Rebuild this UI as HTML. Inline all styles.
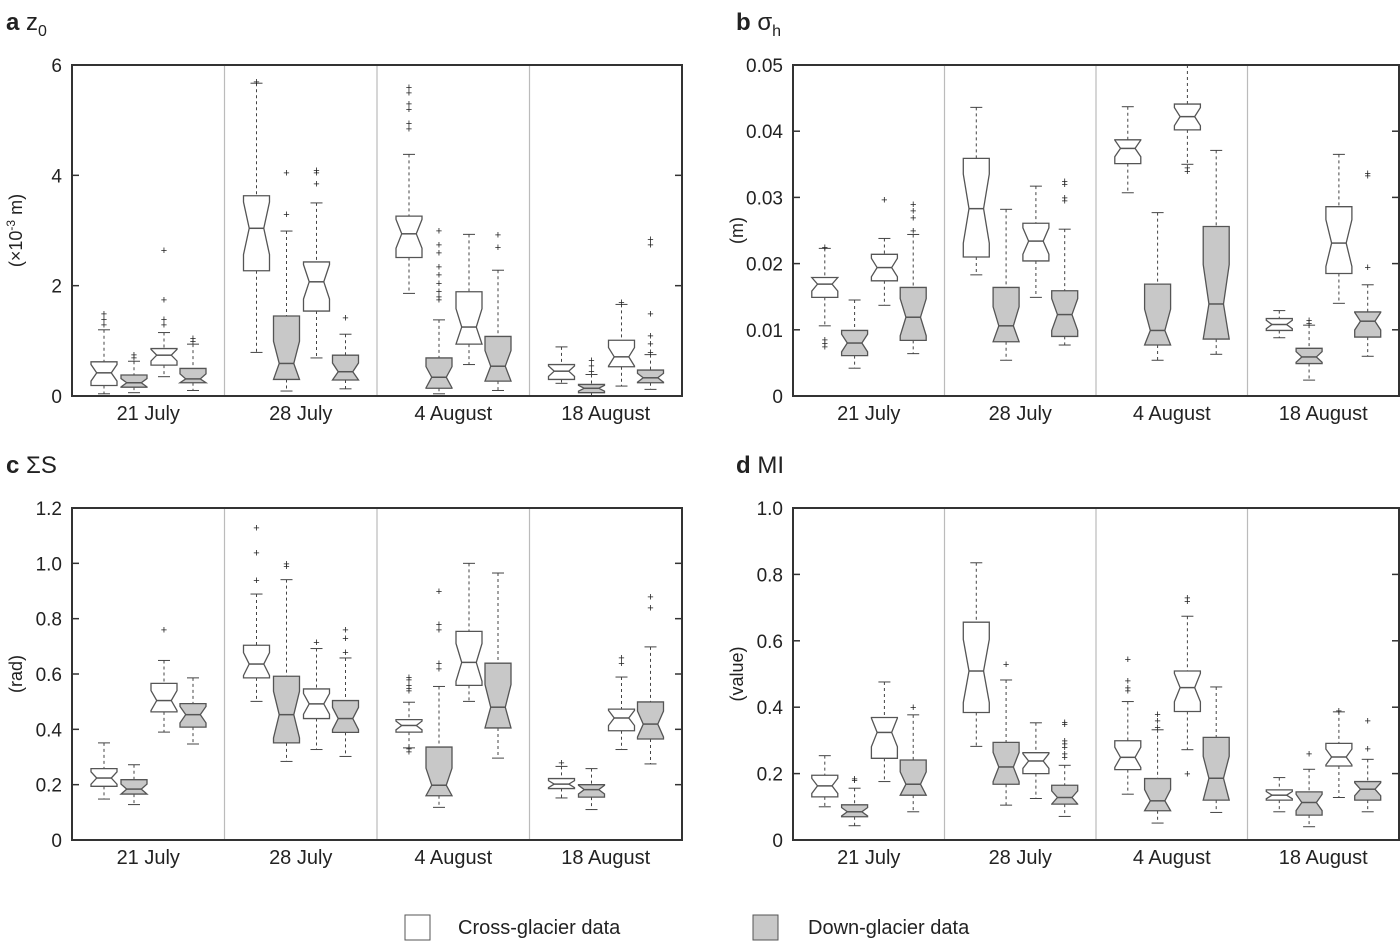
<!DOCTYPE html>
<html><head><meta charset="utf-8"><style>
body{margin:0;background:#fff;}
svg text{font-family:"Liberation Sans",sans-serif;fill:#222;}
</style></head><body>
<svg id="s" width="1400" height="944" viewBox="0 0 1400 944" xmlns="http://www.w3.org/2000/svg">
<g>
<text x="6" y="30" font-size="24"><tspan font-weight="bold">a</tspan>  z<tspan font-size="16" dy="6">0</tspan></text>
<text x="736" y="30" font-size="24"><tspan font-weight="bold">b</tspan>  σ<tspan font-size="16" dy="6">h</tspan></text>
<text x="6" y="473" font-size="24"><tspan font-weight="bold">c</tspan>  ΣS</text>
<text x="736" y="473" font-size="24"><tspan font-weight="bold">d</tspan>  MI</text>
</g>
<g>
<rect x="405" y="915" width="25" height="25" fill="#fff" stroke="#555"/>
<text x="458" y="934" font-size="20">Cross-glacier data</text>
<rect x="753" y="915" width="25" height="25" fill="#c8c8c8" stroke="#555"/>
<text x="808" y="934" font-size="20">Down-glacier data</text>
</g>
</svg>
<script>
const groups=["21 July","28 July","4 August","18 August"];
// each box: [lo, q1, median, q3, hi, outliers...] order per group: cross, down, cross, down
const dataA=[
[[0.04,0.19,0.42,0.62,1.2,[1.3,1.4,1.5]],[0.06,0.16,0.24,0.38,0.63,[0.7,0.75]],[0.35,0.56,0.74,0.86,1.15,[1.3,1.4,1.75,2.65]],[0.1,0.24,0.31,0.5,0.94,[1.0,1.05]]],
[[0.79,2.27,3.04,3.63,5.67,[5.7]],[0.09,0.3,0.59,1.45,2.99,[3.3,4.05]],[0.69,1.54,2.07,2.43,3.5,[3.85,4.05,4.1]],[0.13,0.29,0.44,0.74,1.12,[1.42]]],
[[1.86,2.51,2.94,3.26,4.38,[4.85,4.95,5.2,5.3,5.5,5.6]],[0.04,0.14,0.34,0.69,1.38,[1.75,1.8,1.9,2.05,2.2,2.35,2.6,2.75,3.0]],[0.57,0.94,1.25,1.89,2.93,[]],[0.1,0.27,0.54,1.08,2.28,[2.7,2.93]]],
[[0.23,0.3,0.45,0.57,0.89,[]],[0.0,0.06,0.14,0.21,0.39,[0.45,0.55,0.65]],[0.18,0.53,0.71,1.01,1.66,[1.7]],[0.12,0.24,0.33,0.47,0.75,[0.8,0.95,1.1,1.5,2.75,2.85]]]];
const dataB=[
[[.0106,.0149,.0169,.0179,.0223,[.0225,.0085,.008,.0075]],[.0042,.0061,.008,.0099,.0145,[]],[.0137,.0174,.0194,.0214,.0238,[.0297]],[.0064,.0084,.0119,.0164,.0244,[.025,.027,.028,.029]]],
[[.0183,.021,.0283,.0359,.0436,[]],[.0054,.0082,.0106,.0164,.0282,[]],[.0149,.0204,.0234,.0261,.0317,[]],[.0077,.009,.0123,.0159,.0252,[.0295,.030,.032,.0325]]],
[[.0307,.0351,.0374,.0387,.0437,[]],[.0054,.0077,.0099,.0169,.0277,[]],[.035,.0402,.0422,.0441,.05,[.0345,.034]],[.0063,.0086,.0139,.0256,.0371,[]]],
[[.0088,.0099,.0108,.0117,.0129,[]],[.0024,.0049,.0059,.0072,.0107,[.011,.0115]],[.014,.0185,.0231,.0286,.0365,[]],[.006,.0089,.0113,.0127,.0168,[.0195,.0333,.0337]]]];
const dataC=[
[[.148,.194,.224,.258,.351,[]],[.128,.166,.184,.218,.272,[]],[.39,.463,.504,.566,.649,[.76]],[.347,.408,.453,.493,.586,[]]],
[[.501,.586,.636,.704,.889,[.94,1.04,1.13]],[.284,.351,.453,.592,.941,[.99,1.0]],[.327,.439,.492,.546,.692,[.715]],[.302,.389,.439,.504,.658,[.68,.73,.76]]],
[[.333,.39,.414,.435,.498,[.33,.32,.54,.55,.56,.58,.59]],[.118,.16,.198,.336,.555,[.62,.64,.76,.78,.9]],[.501,.559,.642,.754,1.0,[]],[.296,.405,.48,.639,.965,[]]],
[[.152,.186,.202,.222,.266,[.28]],[.11,.155,.182,.2,.258,[]],[.327,.395,.441,.473,.589,[.64,.66]],[.275,.365,.419,.499,.698,[.84,.88]]]];
const dataD=[
[[.1,.13,.163,.195,.254,[]],[.043,.07,.085,.106,.156,[.18,.185]],[.176,.246,.324,.369,.476,[]],[.085,.135,.168,.241,.377,[.4]]],
[[.282,.384,.509,.656,.835,[]],[.105,.168,.22,.294,.482,[.53]],[.125,.2,.238,.263,.353,[]],[.071,.108,.128,.165,.225,[.25,.26,.28,.29,.30,.35,.355]]],
[[.138,.212,.249,.299,.417,[.45,.46,.48,.545]],[.051,.088,.118,.185,.332,[.34,.36,.38]],[.272,.387,.459,.509,.674,[.2,.72,.73]],[.083,.12,.186,.309,.461,[]]],
[[.085,.12,.135,.151,.188,[]],[.04,.075,.113,.145,.213,[.26]],[.128,.223,.25,.291,.386,[.39]],[.085,.12,.153,.176,.243,[.275,.36]]]];
const ticksA=["0","2","4","6"], ticksB=["0","0.01","0.02","0.03","0.04","0.05"];
const ticksC=["0","0.2","0.4","0.6","0.8","1.0","1.2"], ticksD=["0","0.2","0.4","0.6","0.8","1.0"];

const svg=document.getElementById('s');
const NS="http://www.w3.org/2000/svg";
function mk(tag,attrs,parent){const e=document.createElementNS(NS,tag);for(const k in attrs)e.setAttribute(k,attrs[k]);parent.appendChild(e);return e;}

function panel(name,x0,x1,y0,y1,ymax,ticks,ylab,data){
  const g=mk('g',{},svg);
  
  
  const ys=v=>y1-(v/ymax)*(y1-y0);
  const gw=(x1-x0)/4;
  // dividers
  for(let i=1;i<4;i++){const l=mk('line',{x1:x0+gw*i,x2:x0+gw*i,y1:y0,y2:y1,stroke:'#bbb','stroke-width':1.2},g);
    }
  // ticks
  ticks.forEach(t=>{const v=parseFloat(t),y=ys(v);
    mk('line',{x1:x0,x2:x0+7,y1:y,y2:y,stroke:'#333','stroke-width':1.5},g);
    mk('line',{x1:x1-7,x2:x1,y1:y,y2:y,stroke:'#333','stroke-width':1.5},g);
    const tx=mk('text',{x:x0-10,y:y+7,'font-size':19,'text-anchor':'end'},g);tx.textContent=t;
    
  });
  const yl=mk('text',{transform:`translate(${x0-50},${(y0+y1)/2}) rotate(-90)`,'font-size':18,'text-anchor':'middle'},g);
  yl.innerHTML=ylab;
  
  const offs=[32,62,92,121], bw=26;
  data.forEach((grp,gi)=>{
    const lab=mk('text',{x:x0+gw*gi+gw/2,y:y1+24,'font-size':20,'text-anchor':'middle'},g);lab.textContent=groups[gi];
    
    grp.forEach((b,bi)=>{
      const cx=x0+gw*gi+offs[bi]*gw/152.5;
      const [lo,q1,md,q3,hi,outs]=b;
      const bg=mk('g',{},g);
      
      
      const Y1=ys(q1),Y3=ys(q3),YM=ys(md),nh=Math.min(0.35*(Y1-Y3),(Y1-Y3)/2);
      const n1=Math.min(Y1,YM+nh),n3=Math.max(Y3,YM-nh);
      const L=cx-bw/2,R=cx+bw/2,ni=bw*0.22;
      mk('line',{x1:cx,x2:cx,y1:ys(hi),y2:Y3,stroke:'#444','stroke-dasharray':'3,3'},bg);
      mk('line',{x1:cx,x2:cx,y1:Y1,y2:ys(lo),stroke:'#444','stroke-dasharray':'3,3'},bg);
      mk('line',{x1:cx-6,x2:cx+6,y1:ys(hi),y2:ys(hi),stroke:'#444'},bg);
      mk('line',{x1:cx-6,x2:cx+6,y1:ys(lo),y2:ys(lo),stroke:'#444'},bg);
      const pts=`${L},${Y3} ${R},${Y3} ${R},${n3} ${R-ni},${YM} ${R},${n1} ${R},${Y1} ${L},${Y1} ${L},${n1} ${L+ni},${YM} ${L},${n3}`;
      mk('polygon',{points:pts,fill:bi%2==0?'#fff':'#c8c8c8',stroke:'#555','stroke-width':1.3},bg);
      mk('line',{x1:L+ni,x2:R-ni,y1:YM,y2:YM,stroke:'#555','stroke-width':1.5},bg);
      outs.forEach(o=>{const oy=ys(o);
        const t=mk('text',{x:cx,y:oy+4,'font-size':11,'text-anchor':'middle',fill:'#333'},bg);t.textContent='+';});
    });
  });
  const fr=mk('rect',{x:x0,y:y0,width:x1-x0,height:y1-y0,fill:'none',stroke:'#333','stroke-width':2},g);
  
}
panel('panel-a-z0',72,682,65,396,6,ticksA,'(×10<tspan font-size="12" dy="-7">-3</tspan><tspan dy="7"> m)</tspan>',dataA);
panel('panel-b-sigma-h',793,1399,65,396,0.05,ticksB,'(m)',dataB);
panel('panel-c-sum-s',72,682,508,840,1.2,ticksC,'(rad)',dataC);
panel('panel-d-mi',793,1399,508,840,1.0,ticksD,'(value)',dataD);
</script>
</body></html>
